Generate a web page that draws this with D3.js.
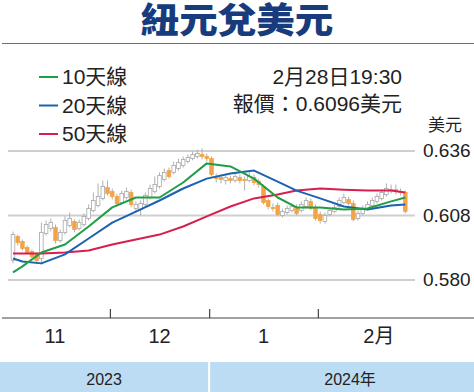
<!DOCTYPE html>
<html><head><meta charset="utf-8">
<script src="https://cdn.jsdelivr.net/npm/d3@7"></script>
<style>
html,body{margin:0;padding:0;background:#fff;}
svg{display:block;}
text{font-family:"Liberation Sans","Noto Sans CJK TC",sans-serif;fill:#222;}
</style></head>
<body><svg id="c" width="474" height="392"></svg>
<script>
// ---- data ----
const title = "紐元兌美元";
const months = ["11","12","1","2"];
const monthSuffix = ["","","","月"];
const monthDays = [21, 21, 23, 19];
const years = ["2023","2024"];
const yearSuffix = ["","年"];
const yTicks = [0.580, 0.608, 0.636];
const yUnit = "美元";
const quoteTime = "2月28日19:30";
const quoteText = "報價：0.6096美元";
const open  = [.5883,.5987,.5965,.5939,.5922,.5909,.5891,.6000,.6021,.6026,.5969,.6004,.6034,.6052,.6021,.6039,.6065,.6100,.6121,.6152,.6199,.6182,.6160,.6134,.6156,.6178,.6108,.6104,.6126,.6156,.6182,.6204,.6234,.6273,.6265,.6282,.6295,.6312,.6325,.6334,.6343,.6334,.6325,.6247,.6243,.6230,.6238,.6230,.6243,.6234,.6230,.6243,.6225,.6204,.6143,.6113,.6121,.6078,.6091,.6100,.6113,.6100,.6117,.6139,.6113,.6082,.6052,.6082,.6095,.6117,.6134,.6147,.6130,.6065,.6087,.6108,.6121,.6139,.6152,.6169,.6186,.6190,.6182,.6178];
const high  = [.6008,.5995,.5974,.5948,.5930,.5917,.6047,.6056,.6065,.6039,.6017,.6074,.6091,.6061,.6061,.6087,.6126,.6178,.6217,.6230,.6230,.6195,.6173,.6186,.6199,.6190,.6139,.6143,.6178,.6212,.6247,.6265,.6282,.6286,.6312,.6325,.6334,.6343,.6356,.6364,.6369,.6347,.6334,.6260,.6256,.6256,.6251,.6260,.6256,.6247,.6265,.6256,.6238,.6212,.6152,.6130,.6134,.6108,.6121,.6130,.6126,.6139,.6156,.6152,.6126,.6095,.6091,.6113,.6126,.6156,.6173,.6160,.6143,.6100,.6121,.6139,.6156,.6173,.6190,.6217,.6212,.6212,.6195,.6186];
const low   = [.5870,.5948,.5926,.5909,.5891,.5870,.5865,.5991,.6008,.5956,.5960,.5995,.6026,.6004,.6013,.6030,.6056,.6091,.6113,.6143,.6165,.6147,.6117,.6126,.6147,.6113,.6091,.6078,.6117,.6147,.6173,.6195,.6225,.6238,.6256,.6273,.6286,.6304,.6317,.6325,.6321,.6312,.6247,.6221,.6217,.6212,.6217,.6221,.6217,.6186,.6221,.6208,.6199,.6126,.6104,.6095,.6074,.6069,.6082,.6091,.6078,.6091,.6108,.6100,.6056,.6043,.6043,.6074,.6087,.6108,.6126,.6121,.6052,.6056,.6078,.6100,.6113,.6130,.6143,.6160,.6173,.6169,.6165,.6087];
const close = [.5995,.5960,.5935,.5917,.5900,.5883,.6004,.6039,.6047,.5969,.6004,.6056,.6065,.6017,.6047,.6074,.6108,.6143,.6160,.6204,.6173,.6160,.6130,.6173,.6182,.6126,.6126,.6130,.6165,.6195,.6212,.6251,.6265,.6247,.6295,.6308,.6321,.6330,.6343,.6347,.6334,.6325,.6256,.6238,.6234,.6243,.6230,.6247,.6230,.6230,.6247,.6221,.6212,.6134,.6117,.6108,.6082,.6095,.6108,.6117,.6087,.6126,.6143,.6108,.6065,.6056,.6078,.6100,.6113,.6143,.6156,.6130,.6061,.6087,.6108,.6126,.6143,.6160,.6178,.6195,.6190,.6182,.6178,.6096];
const maIndex = [0,2,6,11,16,21,26,31,36,41,46,51,56,60,65,70,75,80,83];
const ma10 = [.5831,.5857,.5917,.5952,.6030,.6113,.6156,.6156,.6221,.6304,.6291,.6238,.6156,.6113,.6113,.6104,.6108,.6139,.6156];
const ma20 = [.5891,.5878,.5870,.5909,.5978,.6047,.6095,.6143,.6195,.6238,.6260,.6273,.6225,.6186,.6152,.6117,.6104,.6121,.6126];
const ma50 = [.5913,.5913,.5913,.5917,.5926,.5952,.5974,.5995,.6030,.6074,.6117,.6152,.6169,.6186,.6195,.6190,.6186,.6186,.6178];
const maNames = ["10天線","20天線","50天線"];
const maColors = ["#1f9e45","#1c62b0","#d71f4e"];

// ---- drawing ----
const svg = d3.select("#c");
const W = 474, H = 392;
const n = open.length;
const x = d3.scaleLinear().domain([0, n - 1]).range([13, 405.3]);
const y = d3.scaleLinear().domain([0.580, 0.636]).range([279.5, 150.5]);
const gridLeft = 8, gridRight = 415;

// title
svg.append("text").attr("text-anchor","middle")
  .attr("transform", `translate(${W/2},33) scale(1.1,1)`)
  .style("font-family","'Noto Sans CJK TC',sans-serif").style("font-weight","900")
  .style("font-size","35px").style("fill","#173b7c").text(title);
svg.append("line").attr("x1",2).attr("x2",W).attr("y1",43.5).attr("y2",43.5)
  .attr("stroke","#6e6e6e").attr("stroke-width",1.2);

// y axis + gridlines
const yAxis = d3.axisRight(y).tickValues(yTicks).tickFormat(d3.format(".3f"))
  .tickSize(-(gridRight-gridLeft)).tickPadding(8);
const gy = svg.append("g").attr("transform",`translate(${gridRight},0)`).call(yAxis);
gy.select(".domain").remove();
gy.selectAll(".tick line").attr("stroke","#cfcfcf").attr("stroke-width",2);
gy.selectAll(".tick text").style("font-size","19px").style("fill","#222")
  .style("font-family","'Liberation Sans',sans-serif");
svg.append("text").attr("x",445).attr("y",131).attr("text-anchor","middle")
  .style("font-size","17px").text(yUnit);

// candles
const idx = d3.range(n);
const bw = 3.6;
const cg = svg.append("g");
cg.selectAll("line.w").data(idx).join("line").attr("class","w")
  .attr("x1", i => x(i)).attr("x2", i => x(i))
  .attr("y1", i => y(high[i])).attr("y2", i => y(low[i]))
  .attr("stroke","#b0b0b0").attr("stroke-width",1);
cg.selectAll("rect").data(idx).join("rect")
  .attr("x", i => x(i) - bw/2).attr("width", bw)
  .attr("y", i => y(Math.max(open[i], close[i])))
  .attr("height", i => Math.max(1, Math.abs(y(open[i]) - y(close[i]))))
  .attr("fill", i => close[i] >= open[i] ? "#fff" : "#f3a446")
  .attr("stroke", i => close[i] >= open[i] ? "#a8a8a8" : "#f3a446")
  .attr("stroke-width", 0.8);

// moving averages
const mas = [ma50, ma20, ma10];
const maCol = [maColors[2], maColors[1], maColors[0]];
const line = d3.line().x(d => x(d[0])).y(d => y(d[1]));
mas.forEach((m, k) => {
  svg.append("path").datum(maIndex.map((ix, j) => [ix, m[j]]))
    .attr("d", line).attr("fill","none").attr("stroke", maCol[k])
    .attr("stroke-width", 2).attr("stroke-linejoin","round");
});

// legend
maNames.forEach((name, k) => {
  const ly = [77, 105.5, 134][k];
  svg.append("line").attr("x1",39).attr("x2",58).attr("y1",ly).attr("y2",ly)
    .attr("stroke", maColors[k]).attr("stroke-width",2);
  svg.append("text").attr("x",62).attr("y",ly+7).style("font-size","21px").text(name);
});
svg.append("text").attr("x",402).attr("y",84).attr("text-anchor","end")
  .style("font-size","21px").text(quoteTime);
svg.append("text").attr("x",402).attr("y",111).attr("text-anchor","end")
  .style("font-size","21px").text(quoteText);

// x axis
const axisY = 318;
svg.append("line").attr("x1",2).attr("x2",W).attr("y1",axisY).attr("y2",axisY)
  .attr("stroke","#444").attr("stroke-width",1.2);
const cum = d3.cumsum(monthDays);
const bounds = cum.slice(0, -1).map(c => c - 0.5);
const xAxis = d3.axisTop(x).tickValues(bounds).tickSize(9).tickFormat("");
const gx = svg.append("g").attr("transform",`translate(0,${axisY})`).call(xAxis);
gx.select(".domain").remove();
gx.selectAll(".tick line").attr("stroke","#444").attr("stroke-width",1.2);

function labelAt(cx, yy, main, suffix, size) {
  const t = svg.append("text").attr("y", yy).style("font-size", size + "px");
  t.append("tspan").text(main);
  const w = t.node().getComputedTextLength();
  t.append("tspan").text(suffix);
  t.attr("x", cx - w/2);
}
const monthStart = [0, ...cum.slice(0,-1)];
months.forEach((m, k) => {
  const a = k === 0 ? 0 : x(monthStart[k] - 0.5);
  const b = k === months.length - 1 ? gridRight + 5 : x(cum[k] - 0.5);
  labelAt((a + b)/2, 343, m, monthSuffix[k], 20);
});

// year band
const yearBounds = [0, x(cum[1] - 0.5), W];
years.forEach((yr, k) => {
  const a = yearBounds[k] + (k ? 1 : 0), b = yearBounds[k+1] - (k ? 0 : 1);
  svg.append("rect").attr("x", a).attr("y", 362).attr("width", b - a).attr("height", 30)
    .attr("fill", "#bcdcf3");
  labelAt((a + b)/2, 385, yr, yearSuffix[k], 16);
});
</script></body></html>
